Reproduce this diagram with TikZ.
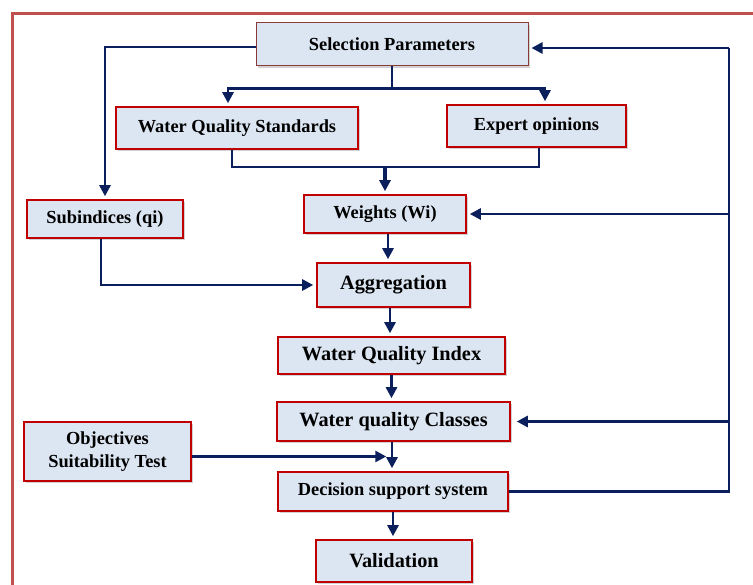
\documentclass[tikz,border=0pt]{standalone}
\usepackage{fontspec}
\setmainfont{Liberation Serif}
\usetikzlibrary{arrows.meta,shadows,calc}
\definecolor{navy}{HTML}{0B1F5C}
\definecolor{boxfill}{HTML}{DCE6F2}
\definecolor{boxline}{HTML}{C00000}
\definecolor{selline}{HTML}{8B3A3A}
\definecolor{frame}{HTML}{C0504D}
\tikzset{
  box/.style={draw=boxline, line width=1.6pt, fill=boxfill, inner sep=0pt, align=center,
    font=\fontsize{18.4}{23}\selectfont\bfseries,
    drop shadow={shadow xshift=2pt, shadow yshift=-2pt, fill=black!35, opacity=.5}},
  bigbox/.style={box, font=\fontsize{20.3}{24}\selectfont\bfseries},
  selbox/.style={box, draw=selline, line width=1pt},
  conn/.style={draw=navy, line width=2.6pt},
  arr/.style={conn, -{Triangle[length=11pt,width=11pt]}, shorten >=3pt},
}
\begin{document}
\begin{tikzpicture}[x=1pt,y=-1pt]
\useasboundingbox (0,0) rectangle (753,585);
\fill[white] (0,0) rectangle (753,585);
\draw[frame, line width=3pt] (12,585) -- (12,14) -- (753,14);

\node[selbox, minimum width=272pt, minimum height=43pt] (sel) at (392,44.5) {Selection Parameters};
\node[box, minimum width=242pt, minimum height=42pt] (wqs) at (237,128) {Water Quality Standards};
\node[box, minimum width=179pt, minimum height=42pt] (exp) at (536.5,126) {Expert opinions};
\node[box, minimum width=156pt, minimum height=38pt] (sub) at (105,219) {Subindices (qi)};
\node[box, minimum width=162pt, minimum height=38pt] (wts) at (385,214) {Weights (Wi)};
\node[bigbox, minimum width=153pt, minimum height=44pt] (agg) at (393.5,285) {Aggregation};
\node[bigbox, minimum width=227pt, minimum height=37pt] (wqi) at (391.5,355.5) {Water Quality Index};
\node[bigbox, minimum width=233pt, minimum height=39pt] (cls) at (393.5,421.5) {Water quality Classes};
\node[box, minimum width=167pt, minimum height=59pt] (obj) at (107.5,451.5) {Objectives\\Suitability Test};
\node[box, minimum width=230pt, minimum height=39pt] (dec) at (393,491.5) {Decision support system};
\node[bigbox, minimum width=156pt, minimum height=42pt] (val) at (394,561) {Validation};

% Selection -> Subindices
\draw[arr] ([yshift=-2.5pt]sel.west) -| (sub.north);
% Selection -> WQS and Expert
\coordinate (j1) at ($(sel.south)+(0,22)$);
\draw[conn] (sel.south) -- (j1);
\draw[arr] (j1) -| ([xshift=-9pt]wqs.north);
\draw[arr] (j1) -| ([xshift=8.5pt]exp.north);
% WQS and Expert -> Weights
\coordinate (j2) at ($(wts.north)+(0,-27)$);
\draw[conn] ([xshift=-5pt]wqs.south) |- (j2);
\draw[conn] ([xshift=2.5pt]exp.south) |- (j2);
\draw[arr, line width=3.6pt] (j2) -- (wts.north);
% Subindices -> Aggregation
\draw[arr] ([xshift=-4pt]sub.south) |- (agg.west);
% main chain
\draw[arr] ([xshift=3pt]wts.south) -- ([xshift=3pt]wts.south |- agg.north);
\draw[arr] ([xshift=-3.5pt]agg.south) -- ([xshift=-3.5pt]agg.south |- wqi.north);
\draw[arr] (wqi.south) -- (wqi.south |- cls.north);
\draw[arr] ([xshift=-1.5pt]cls.south) -- ([xshift=-1.5pt]cls.south |- dec.north);
\draw[arr] (dec.south) -- (dec.south |- val.north);
% Objectives -> chain
\coordinate (m) at ($(cls.south)!.5!(dec.north)$);
\draw[arr, shorten >=0pt] (obj.east |- m) -- ([xshift=-7pt]m);
% feedback loop
\coordinate (fb) at (729,48);
\draw[conn] (dec.east) -| (fb);
\draw[arr] (fb) -- (sel.east |- fb);
\draw[arr] (fb |- wts.east) -- (wts.east);
\draw[arr, shorten >=6pt] (fb |- cls.east) -- (cls.east);
\end{tikzpicture}
\end{document}
